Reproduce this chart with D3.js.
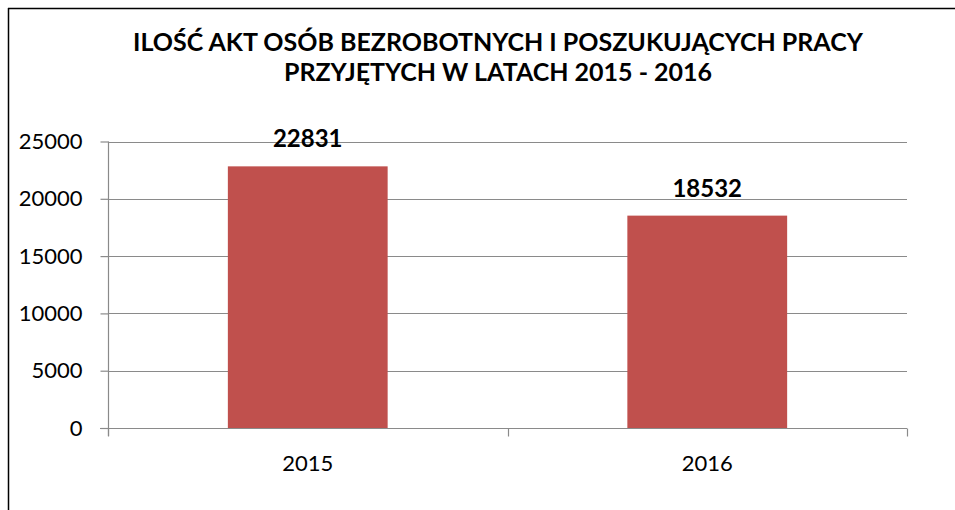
<!DOCTYPE html>
<meta charset="utf-8" />
<script src="https://d3js.org/d3.v7.min.js"></script>
<style>
  body { margin: 0; background: #fff; }
  text { font-family: Lato, "Open Sans", sans-serif; fill: #000; }
</style>
<svg id="chart" width="955" height="510"></svg>
<script>
  // data
  var years = ["2015", "2016"];
  var values = [22831, 18532];
  var yTicks = [0, 5000, 10000, 15000, 20000, 25000];
  var titleLines = [
    "ILOŚĆ AKT OSÓB BEZROBOTNYCH I POSZUKUJĄCYCH PRACY",
    "PRZYJĘTYCH W LATACH 2015 - 2016"
  ];

  var svg = d3.select("#chart");

  // frame (only top and left edges are visible in the crop)
  svg.append("line").attr("x1", 8).attr("x2", 955).attr("y1", 8.5).attr("y2", 8.5)
    .attr("stroke", "#000").attr("stroke-width", 1.5);
  svg.append("line").attr("x1", 8.5).attr("x2", 8.5).attr("y1", 8).attr("y2", 510)
    .attr("stroke", "#000").attr("stroke-width", 1.5);

  var x = d3.scaleBand().domain(years).range([108, 907]).paddingInner(0.6).paddingOuter(0.3);
  var y = d3.scaleLinear().domain([0, 25000]).range([428, 141.5]);

  // gridlines
  svg.append("g").selectAll("line").data(yTicks.slice(1)).enter().append("line")
    .attr("x1", 108).attr("x2", 907)
    .attr("y1", function(d) { return Math.round(y(d)) + 0.5; })
    .attr("y2", function(d) { return Math.round(y(d)) + 0.5; })
    .attr("stroke", "#8a8a8a").attr("stroke-width", 1.2);

  // bars
  svg.append("g").selectAll("rect").data(values).enter().append("rect")
    .attr("x", function(d, i) { return x(years[i]); })
    .attr("width", x.bandwidth())
    .attr("y", function(d) { return y(d); })
    .attr("height", function(d) { return y(0) - y(d); })
    .attr("fill", "#C0504D");

  // y axis
  var yAxis = svg.append("g").attr("transform", "translate(108.5,0)")
    .call(d3.axisLeft(y).tickValues(yTicks).tickFormat(d3.format("d")).tickSize(8).tickPadding(18));
  yAxis.select(".domain").attr("stroke", "#8a8a8a").attr("stroke-width", 1.2)
    .attr("d", "M0," + y(25000) + "V" + (y(0) + 8));
  yAxis.selectAll(".tick line").attr("stroke", "#8a8a8a").attr("stroke-width", 1.2);
  yAxis.selectAll(".tick text").attr("font-size", 22).attr("font-family", "Lato").attr("fill", "#000");

  // x axis
  var xAxis = svg.append("g").attr("transform", "translate(0," + (Math.round(y(0)) + 0.5) + ")");
  xAxis.append("line").attr("x1", 100).attr("x2", 907).attr("stroke", "#8a8a8a").attr("stroke-width", 1.2);
  var boundaries = [108, 508, 907];
  xAxis.selectAll(".xt").data(boundaries).enter().append("line")
    .attr("x1", function(d) { return d + 0.5; }).attr("x2", function(d) { return d + 0.5; })
    .attr("y1", 0).attr("y2", 8)
    .attr("stroke", "#8a8a8a").attr("stroke-width", 1.2);
  xAxis.selectAll("text").data(years).enter().append("text")
    .attr("x", function(d) { return x(d) + x.bandwidth() / 2; })
    .attr("y", 42)
    .attr("text-anchor", "middle")
    .attr("font-size", 22)
    .text(function(d) { return d; });

  // value labels
  svg.append("g").selectAll("text").data(values).enter().append("text")
    .attr("x", function(d, i) { return x(years[i]) + x.bandwidth() / 2; })
    .attr("y", function(d) { return y(d) - 19; })
    .attr("text-anchor", "middle")
    .attr("font-size", 24)
    .attr("font-weight", "bold")
    .text(function(d) { return d; });

  // title
  svg.append("g").selectAll("text").data(titleLines).enter().append("text")
    .attr("x", 498)
    .attr("y", function(d, i) { return 51 + i * 30; })
    .attr("text-anchor", "middle")
    .attr("font-size", 25)
    .attr("font-weight", "bold")
    .text(function(d) { return d; });
</script>
